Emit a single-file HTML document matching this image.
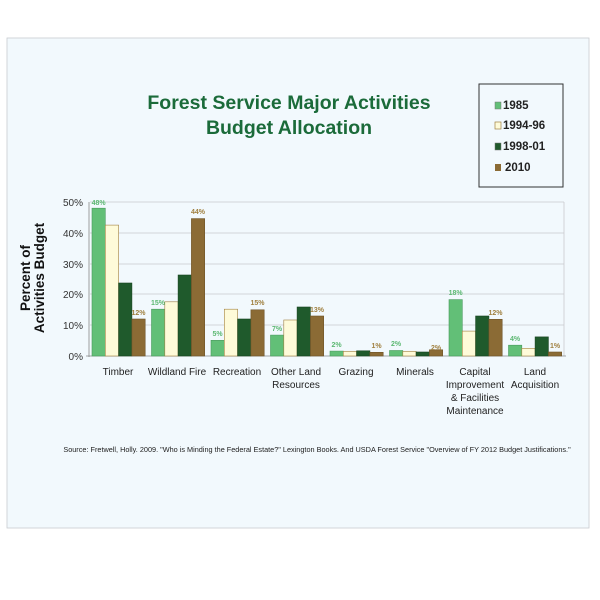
<!DOCTYPE html>
<html><head><meta charset="utf-8"><style>
html,body{margin:0;padding:0;background:#fff;}
svg{display:block;font-family:"Liberation Sans",Arial,sans-serif;}
</style></head><body>
<svg width="600" height="600" viewBox="0 0 600 600" xmlns="http://www.w3.org/2000/svg">
<rect x="7" y="38" width="582" height="490" fill="#f2f9fd" stroke="#c8ccd0" stroke-width="0.8"/>
<text x="289" y="109" text-anchor="middle" font-size="19.5" font-weight="bold" fill="#1b6b3a">Forest Service Major Activities</text>
<text x="289" y="134" text-anchor="middle" font-size="19.5" font-weight="bold" fill="#1b6b3a">Budget Allocation</text>
<rect x="479" y="84" width="84" height="103" fill="#f2f9fd" stroke="#333" stroke-width="1"/>
<rect x="495" y="102" width="6" height="7" fill="#62bf77" stroke="#777" stroke-width="0.5"/>
<text x="503" y="109" font-size="11.5" font-weight="bold" fill="#222">1985</text>
<rect x="495" y="122" width="6" height="7" fill="#fefbd9" stroke="#a08040" stroke-width="0.7"/>
<text x="503" y="129" font-size="11.5" font-weight="bold" fill="#222">1994-96</text>
<rect x="495" y="143" width="6" height="7" fill="#1f5a2c" stroke="#777" stroke-width="0.5"/>
<text x="503" y="150" font-size="11.5" font-weight="bold" fill="#222">1998-01</text>
<rect x="495" y="164" width="6" height="7" fill="#8b6b35"/>
<text x="505" y="171" font-size="11.5" font-weight="bold" fill="#222">2010</text>
<g stroke="#c8c8cc" stroke-width="0.8">
<line x1="90" y1="202" x2="564" y2="202"/><line x1="90" y1="233" x2="564" y2="233"/>
<line x1="90" y1="264" x2="564" y2="264"/><line x1="90" y1="294" x2="564" y2="294"/>
<line x1="90" y1="325" x2="564" y2="325"/><line x1="564" y1="202" x2="564" y2="356"/>
</g>
<line x1="89" y1="202" x2="89" y2="357" stroke="#888" stroke-width="0.8"/>
<line x1="86" y1="356" x2="566" y2="356" stroke="#888" stroke-width="0.8"/>
<g font-size="10" fill="#333" text-anchor="end">
<text x="83" y="206">50%</text><text x="83" y="237">40%</text><text x="83" y="268">30%</text>
<text x="83" y="298">20%</text><text x="83" y="329">10%</text><text x="83" y="360">0%</text>
</g>
<text transform="translate(30,278) rotate(-90)" text-anchor="middle" font-size="13.5" font-weight="bold" fill="#111">Percent of</text>
<text transform="translate(44,278) rotate(-90)" text-anchor="middle" font-size="13.5" font-weight="bold" fill="#111">Activities Budget</text>
<g stroke-width="0.6">
<g fill="#62bf77" stroke="#4a9a5e">
<rect x="92" y="208.2" width="13.3" height="147.8"/><rect x="151.5" y="309.2" width="13.3" height="46.8"/>
<rect x="211" y="340.3" width="13.3" height="15.7"/><rect x="270.5" y="335.1" width="13.3" height="20.9"/>
<rect x="330" y="351.1" width="13.3" height="4.9"/><rect x="389.5" y="350.5" width="13.3" height="5.5"/>
<rect x="449" y="299.6" width="13.3" height="56.4"/><rect x="508.5" y="345.2" width="13.3" height="10.8"/>
</g>
<g fill="#fefbd9" stroke="#a08040">
<rect x="105.3" y="225.1" width="13.3" height="130.9"/><rect x="164.8" y="301.8" width="13.3" height="54.2"/>
<rect x="224.3" y="309.2" width="13.3" height="46.8"/><rect x="283.8" y="320" width="13.3" height="36"/>
<rect x="343.3" y="351.4" width="13.3" height="4.6"/><rect x="402.8" y="351.4" width="13.3" height="4.6"/>
<rect x="462.3" y="331.1" width="13.3" height="24.9"/><rect x="521.8" y="348.3" width="13.3" height="7.7"/>
</g>
<g fill="#1f5a2c" stroke="#17431f">
<rect x="118.6" y="283" width="13.3" height="73"/><rect x="178.1" y="275" width="13.3" height="81"/>
<rect x="237.6" y="319" width="13.3" height="37"/><rect x="297.1" y="307" width="13.3" height="49"/>
<rect x="356.6" y="350.8" width="13.3" height="5.2"/><rect x="416.1" y="352" width="13.3" height="4"/>
<rect x="475.6" y="316" width="13.3" height="40"/><rect x="535.1" y="336.9" width="13.3" height="19.1"/>
</g>
<g fill="#8b6b35" stroke="#6e5428">
<rect x="131.9" y="319" width="13.3" height="37"/><rect x="191.4" y="218.6" width="13.3" height="137.4"/>
<rect x="250.9" y="309.8" width="13.3" height="46.2"/><rect x="310.4" y="316" width="13.3" height="40"/>
<rect x="369.9" y="352.3" width="13.3" height="3.7"/><rect x="429.4" y="349.8" width="13.3" height="6.2"/>
<rect x="488.9" y="319.3" width="13.3" height="36.7"/><rect x="548.4" y="352" width="13.3" height="4"/>
</g>
</g>
<g font-size="7" font-weight="bold" text-anchor="middle" fill="#5cb872">
<text x="98.6" y="205">48%</text><text x="158" y="305">15%</text><text x="217.6" y="336">5%</text>
<text x="277" y="331">7%</text><text x="336.6" y="347">2%</text><text x="396" y="346">2%</text>
<text x="455.6" y="295">18%</text><text x="515" y="341">4%</text>
</g>
<g font-size="7" font-weight="bold" text-anchor="middle" fill="#a08040">
<text x="138.5" y="315">12%</text><text x="198" y="214">44%</text><text x="257.5" y="305">15%</text>
<text x="317" y="312">13%</text><text x="376.5" y="348">1%</text><text x="436" y="350">2%</text>
<text x="495.5" y="315">12%</text><text x="555" y="348">1%</text>
</g>
<g font-size="10" fill="#222" text-anchor="middle">
<text x="118" y="375">Timber</text><text x="177" y="375">Wildland Fire</text>
<text x="237" y="375">Recreation</text><text x="296" y="375">Other Land</text><text x="296" y="388">Resources</text>
<text x="356" y="375">Grazing</text><text x="415" y="375">Minerals</text>
<text x="475" y="375">Capital</text><text x="475" y="388">Improvement</text><text x="475" y="401">&amp; Facilities</text><text x="475" y="414">Maintenance</text>
<text x="535" y="375">Land</text><text x="535" y="388">Acquisition</text>
</g>
<text x="317" y="452" text-anchor="middle" font-size="7.3" fill="#222">Source: Fretwell, Holly. 2009. "Who is Minding the Federal Estate?" Lexington Books. And USDA Forest Service "Overview of FY 2012 Budget Justifications."</text>
</svg>
</body></html>
